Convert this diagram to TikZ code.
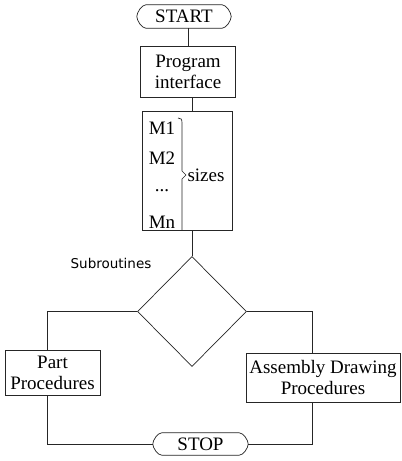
\documentclass[tikz,border=0pt]{standalone}
\usepackage{fontspec}
\setmainfont{Liberation Serif}
\newfontfamily\subfont{DejaVu Sans}
\usetikzlibrary{shapes.geometric}
\newcommand\termoutline[1]{%
  \draw[ln] ([xshift=9pt]#1.north west) -- ([xshift=-9pt]#1.north east)
    .. controls ([xshift=-5pt]#1.north east) and ([yshift=4pt]#1.east) .. (#1.east)
    .. controls ([yshift=-4pt]#1.east) and ([xshift=-5pt]#1.south east) .. ([xshift=-9pt]#1.south east)
    -- ([xshift=9pt]#1.south west)
    .. controls ([xshift=5pt]#1.south west) and ([yshift=-4pt]#1.west) .. (#1.west)
    .. controls ([yshift=4pt]#1.west) and ([xshift=5pt]#1.north west) .. ([xshift=9pt]#1.north west) -- cycle;}
\begin{document}
\begin{tikzpicture}[x=1pt,y=-1pt,
  ln/.style={line width=0.7pt, draw=black!85},
  txt/.style={inner sep=0pt, align=center, font=\fontsize{19}{21}\selectfont},
  box/.style={ln, rectangle, inner sep=0pt, align=center, font=\fontsize{19}{21}\selectfont},
  term/.style={inner sep=0pt, font=\fontsize{19}{21}\selectfont}]
\useasboundingbox[fill=white] (0,0) rectangle (402,461);

% START
\node[term, minimum width=94pt, minimum height=23pt] (start) at (184,16.5) {START};
\termoutline{start}

% Program interface
\node[box, minimum width=95pt, minimum height=51pt] (prog) at (188,71.5) {Program\\interface};

% sizes box
\node[box, minimum width=90pt, minimum height=119pt] (sizes) at (187,170.5) {};
\node[txt] (m1) at (162,128) {M1};
\node[txt] (m2) at (162,158) {M2};
\node[txt] (m3) at (162,191) {...};
\node[txt] (mn) at (162,222) {Mn};
\node[txt] (sz) at (206,175) {sizes};
\draw[ln] (178,118) .. controls (181,118) and (182,119) .. (182,123) -- (182,171) -- (186,175) -- (182,179) -- (182,230);

% diamond
\node[ln, draw, diamond, minimum width=109pt, minimum height=110pt, inner sep=0pt] (dec) at (192,311.5) {};
\node[inner sep=0pt, font=\subfont\fontsize{13.5}{15}\selectfont] (sub) at (111,263) {Subroutines};

% procedure boxes
\node[box, draw, minimum width=95pt, minimum height=45pt] (part) at (52.5,372.5) {Part\\Procedures};
\node[box, draw, minimum width=154pt, minimum height=49pt] (asm) at (323,377.5) {Assembly Drawing\\Procedures};

% STOP
\node[term, minimum width=95pt, minimum height=22pt] (stop) at (200.5,444) {STOP};
\termoutline{stop}

% connectors
\draw[ln] (start.south -| prog.north) -- (prog.north);
\draw[ln] ([xshift=4pt]prog.south) -- ([xshift=4pt]prog.south |- sizes.north);
\draw[ln] (dec.north) -- (dec.north |- sizes.south);
\draw[ln] (dec.west) -| ([xshift=-5.5pt]part.north);
\draw[ln] (dec.east) -| ([xshift=-11pt]asm.north);
\draw[ln] ([xshift=-5.5pt]part.south) |- (stop.west);
\draw[ln] (stop.east) -| ([xshift=-11pt]asm.south);
\end{tikzpicture}
\end{document}
